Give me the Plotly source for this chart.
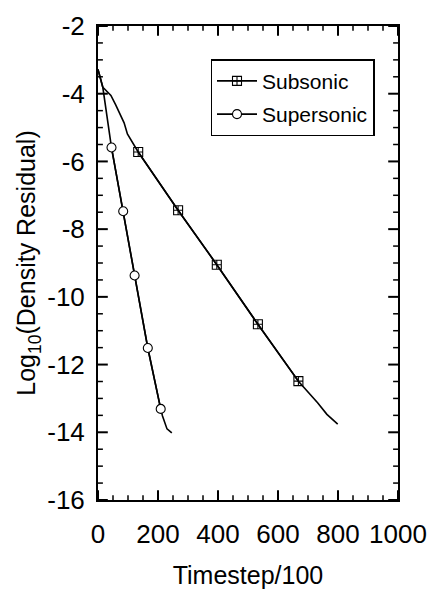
import plotly.graph_objects as go

# Convergence history: log10 of the density residual against timestep/100
sub_x = [0, 16, 22, 43, 59, 71, 87, 98, 134, 267, 396, 533, 668, 732, 763, 799]
sub_y = [-3.28, -3.81, -3.86, -4.05, -4.33, -4.57, -4.86, -5.19, -5.72,
         -7.44, -9.05, -10.81, -12.49, -13.13, -13.47, -13.76]
sub_mark_x = [134, 267, 396, 533, 668]
sub_mark_y = [-5.72, -7.44, -9.05, -10.81, -12.49]

sup_x = [0, 16, 45, 84, 122, 166, 209, 215, 230, 246]
sup_y = [-3.28, -3.81, -5.59, -7.47, -9.37, -11.51, -13.31, -13.52, -13.90, -14.02]
sup_mark_x = [45, 84, 122, 166, 209]
sup_mark_y = [-5.59, -7.47, -9.37, -11.51, -13.31]

x_ticks = [0, 200, 400, 600, 800, 1000]
y_ticks = [-16, -14, -12, -10, -8, -6, -4, -2]
y_tick_text = [str(v) for v in y_ticks]
x_minor_step = 50
y_minor_step = 0.5

FONT = "Liberation Sans, Arial, Helvetica, sans-serif"
LINE_W = 1.6

W, H = 438, 601
MARGIN = dict(l=98, r=34, t=11, b=101)
PLOT_W = W - MARGIN["l"] - MARGIN["r"]
PLOT_H = H - MARGIN["t"] - MARGIN["b"]
MAJOR_LEN, MINOR_LEN = 10, 5

X0, X1 = x_ticks[0], x_ticks[-1]
Y0, Y1 = y_ticks[0], y_ticks[-1]
XU = (X1 - X0) / PLOT_W   # data units per pixel along x
YU = (Y1 - Y0) / PLOT_H   # data units per pixel along y

fig = go.Figure()


def steps(lo, hi, step):
    n = int(round((hi - lo) / step))
    return [lo + i * step for i in range(n + 1)]


# inward tick marks on all four frame sides, built as line segments
def tick_segments(major):
    xs, ys = [], []
    for v in steps(X0, X1, x_minor_step):
        is_major = v in x_ticks
        if is_major != major:
            continue
        ln = (MAJOR_LEN if major else MINOR_LEN) * YU
        xs += [v, v, None, v, v, None]
        ys += [Y0, Y0 + ln, None, Y1, Y1 - ln, None]
    for v in steps(Y0, Y1, y_minor_step):
        is_major = any(abs(v - t) < 1e-9 for t in y_ticks)
        if is_major != major:
            continue
        ln = (MAJOR_LEN if major else MINOR_LEN) * XU
        xs += [X0, X0 + ln, None, X1, X1 - ln, None]
        ys += [v, v, None, v, v, None]
    return xs, ys


for major, width in ((True, 2.0), (False, 1.5)):
    tx, ty = tick_segments(major)
    fig.add_trace(go.Scatter(x=tx, y=ty, mode="lines", showlegend=False, hoverinfo="skip",
                             line=dict(color="black", width=width)))

# full curves (no legend entries)
fig.add_trace(go.Scatter(x=sub_x, y=sub_y, mode="lines", showlegend=False,
                         legendgroup="sub", line=dict(color="black", width=LINE_W)))
fig.add_trace(go.Scatter(x=sup_x, y=sup_y, mode="lines", showlegend=False,
                         legendgroup="sup", line=dict(color="black", width=LINE_W)))

# sampled points with symbols
fig.add_trace(go.Scatter(x=sub_mark_x, y=sub_mark_y, mode="lines+markers", name="Subsonic",
                         legendgroup="sub",
                         line=dict(color="black", width=LINE_W),
                         marker=dict(symbol="square-cross-open", size=9, color="black",
                                     line=dict(width=1.1, color="black"))))
fig.add_trace(go.Scatter(x=sup_mark_x, y=sup_mark_y, mode="lines+markers", name="Supersonic",
                         legendgroup="sup",
                         line=dict(color="black", width=LINE_W),
                         marker=dict(symbol="circle", size=9, color="white",
                                     line=dict(width=1.1, color="black"))))

axis_common = dict(
    showline=True, linecolor="black", linewidth=2, mirror=True,
    ticks="", showgrid=False, zeroline=False, ticklabeloverflow="allow",
    tickfont=dict(family=FONT, size=26, color="black"),
)

fig.update_xaxes(
    range=[X0, X1], tickmode="array", tickvals=x_ticks,
    ticklabelstandoff=10,
    title=dict(text="Timestep/100", font=dict(family=FONT, size=25, color="black"), standoff=18),
    **axis_common,
)
fig.update_yaxes(
    range=[Y0, Y1], tickmode="array", tickvals=y_ticks, ticktext=y_tick_text,
    ticklabelstandoff=6,
    title=dict(text="Log<sub>10</sub>(Density Residual)",
               font=dict(family=FONT, size=25, color="black"), standoff=4),
    **axis_common,
)

fig.update_layout(
    width=W, height=H,
    margin=MARGIN,
    paper_bgcolor="white", plot_bgcolor="white",
    showlegend=True,
    legend=dict(
        x=0.375, y=0.93, xanchor="left", yanchor="top",
        bgcolor="white", bordercolor="black", borderwidth=1.5,
        font=dict(family=FONT, size=21, color="black"),
        itemwidth=40, tracegroupgap=3,
    ),
)

fig.write_html("out.html")
